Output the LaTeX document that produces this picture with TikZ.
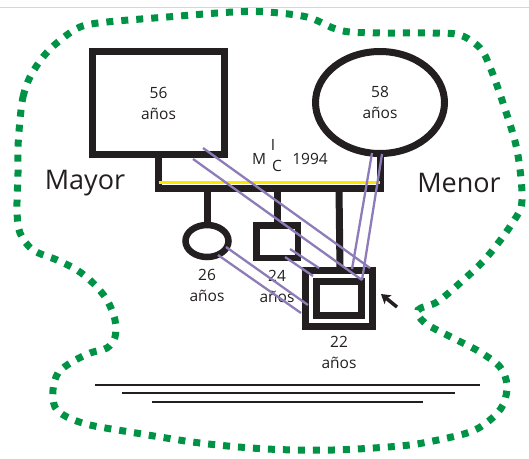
\documentclass[tikz,border=0pt]{standalone}
\usepackage{fontspec}
\setmainfont{Open Sans}
\usetikzlibrary{positioning,shapes.geometric,arrows.meta}

\definecolor{inkblk}{HTML}{231F20}
\definecolor{blobgreen}{HTML}{009245}
\definecolor{linkpurple}{HTML}{8E7CB8}
\definecolor{marryellow}{HTML}{FFE600}
\definecolor{topline}{HTML}{F8D67E}

\begin{document}
\begin{tikzpicture}[x=1pt,y=-1pt,
    male/.style={draw=inkblk,rectangle,line width=7pt,inner sep=0pt,align=center,
        font=\fontsize{15.5}{21}\selectfont,text=inkblk},
    female/.style={male,ellipse},
    proband/.style={draw=inkblk,rectangle,line width=7pt,double=white,
        double distance=4pt,inner sep=0pt},
    age/.style={align=center,inner sep=0pt,font=\fontsize{15.5}{21}\selectfont,text=inkblk},
    side/.style={inner sep=0pt,font=\fontsize{27}{30}\selectfont,text=inkblk},
    pedline/.style={draw=inkblk,line width=7pt},
    link/.style={draw=linkpurple,line width=2.3pt},
    blob/.style={draw=blobgreen,line width=7pt,dash pattern=on 7pt off 8pt}]
    \useasboundingbox (0,0) rectangle (529,458);
    \draw[topline,line width=1pt] (0,7) -- (529,7);

    % family
    \node[male,minimum width=132pt,minimum height=103pt] (father) at (158.5,103) {56\\años};
    \node[female,minimum width=129pt,minimum height=102pt] (mother) at (380,102.5) {58\\años};
    \node[female,line width=6.5pt,minimum width=43pt,minimum height=32pt] (daughter) at (207,241) {};
    \node[male,line width=6.5pt,minimum width=41.5pt,minimum height=32.5pt] (son) at (277,241.5) {};
    \node[proband,minimum width=56pt,minimum height=45pt] (index) at (339,298.5) {};

    \coordinate (mline) at (270,188.5);
    \draw[pedline] (father.south) |- (mline) -| (mother.south);
    \draw[marryellow,line width=2.5pt] (father.south |- 0,182.5) -- (mother.south |- 0,182.5);
    \draw[pedline] (daughter.north) -- (daughter.north |- mline);
    \draw[pedline] (son.north) -- (son.north |- mline);
    \draw[pedline] (index.north) ++(1,-2) -- (index.north |- mline);

    % labels
    \node[age,below=9pt of daughter] (dlabel) {26\\años};
    \node[age,below=9pt of son] (slabel) {24\\años};
    \node[age,below=12pt of index] (ilabel) {22\\años};
    \node[side] (mayor) at (85,183) {Mayor};
    \node[side] (menor) at (459,183) {Menor};
    \node[age] (m) at (259,159) {M};
    \node[age] (i) at (273,145) {I};
    \node[age] (c) at (277,166) {C};
    \node[age] (year) at (310,159) {1994};

    % links
    \coordinate (f1) at (203,148);
    \coordinate (f2) at (193,159);
    \coordinate (m1) at (372,153);
    \coordinate (m2) at (382,154);
    \coordinate (s1) at (290,249);
    \coordinate (s2) at (285,257);
    \coordinate (d1) at (226,247);
    \coordinate (d2) at (218,255);
    \coordinate (p1) at (370,268);
    \coordinate (p2) at (362,280);
    \coordinate (p3) at (352,269);
    \coordinate (p4) at (319,268);
    \coordinate (p5) at (313,276);
    \coordinate (p6) at (308,305);
    \coordinate (p7) at (301,313);
    \draw[link] (f1) -- (p1);
    \draw[link] (f2) -- (p2);
    \draw[link] (m1) -- (p3);
    \draw[link] (m2) -- (p2);
    \draw[link] (s1) -- (p4);
    \draw[link] (s2) -- (p5);
    \draw[link] (d1) -- (p6);
    \draw[link] (d2) -- (p7);

    \coordinate (arrtail) at (397,307);
    \coordinate (arrtip) at (381,294);
    \draw[inkblk,line width=3.5pt,-{Stealth[length=9pt,width=11pt,inset=2pt]}] (arrtail) -- (arrtip);

    % bottom lines
    \draw[inkblk,line width=2pt] (95,385) -- (480,385);
    \draw[inkblk,line width=2pt] (122,393) -- (455,393);
    \draw[inkblk,line width=2pt] (152,402) -- (423,402);

    % boundary
    \draw[blob] plot[smooth cycle,tension=0.55] coordinates {
        (20,120) (23,97) (30,77) (43,57) (58,42) (80,27) (107,22) (167,17)
        (233,12) (267,12) (307,17) (333,28) (350,32) (383,33) (433,33)
        (460,35) (480,48) (490,67) (503,103) (517,150) (522,200) (513,222)
        (487,257) (460,283) (437,302) (418,310) (425,323) (455,339)
        (480,352) (500,367) (507,385) (503,405) (490,420) (470,432)
        (433,441) (400,446) (333,450) (267,449) (200,443) (130,432)
        (90,425) (67,417) (55,407) (53,390) (58,373) (72,362) (90,353)
        (107,348) (115,337) (115,320) (107,300) (93,283) (77,270) (57,260)
        (33,250) (20,233) (17,210) (18,173) (18,147)};
\end{tikzpicture}
\end{document}
